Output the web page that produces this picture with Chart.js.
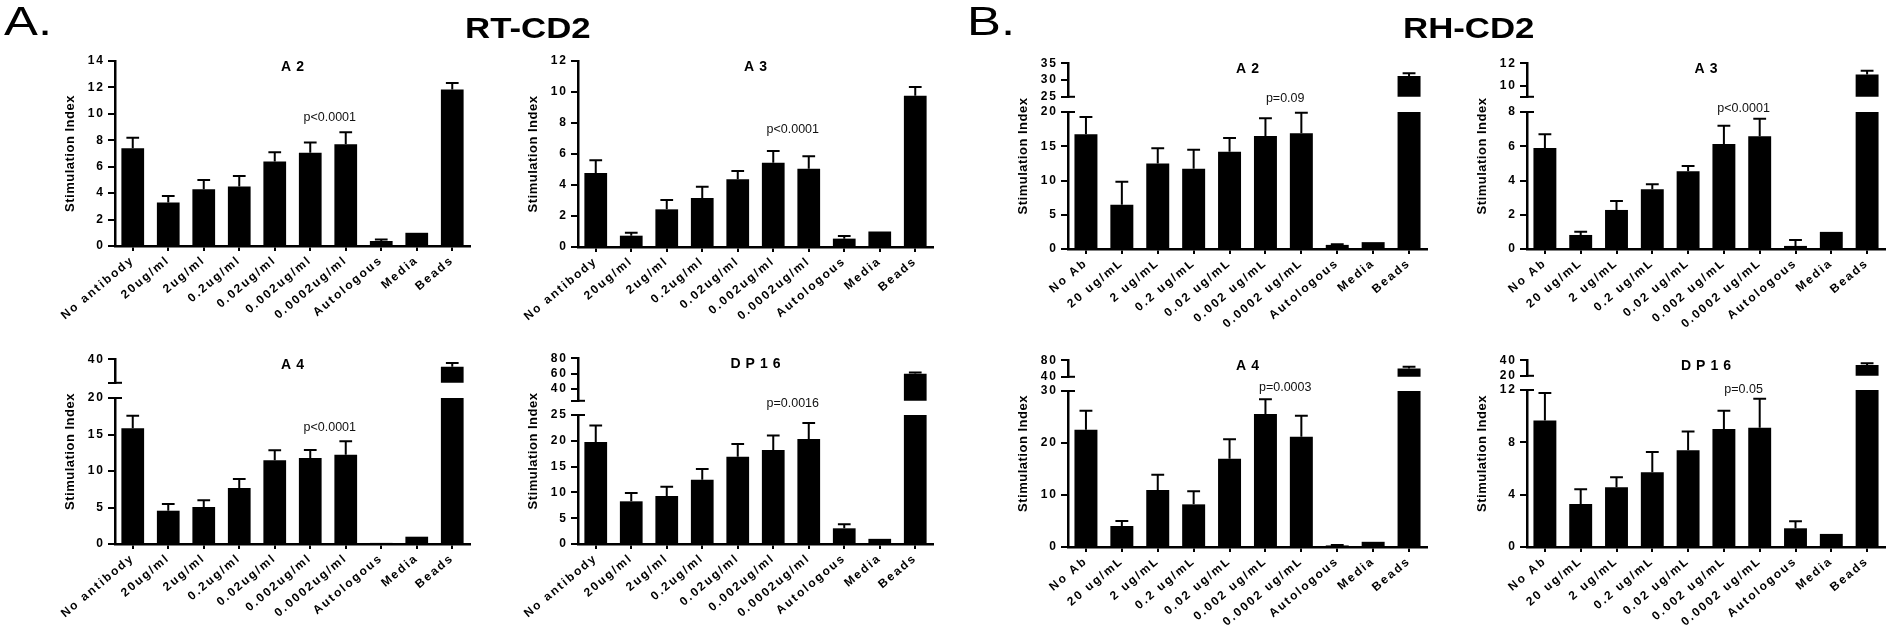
<!DOCTYPE html>
<html>
<head>
<meta charset="utf-8">
<script src="https://cdn.jsdelivr.net/npm/chart.js@4.4.1/dist/chart.umd.min.js"></script>
<style>
html, body { margin: 0; padding: 0; background: #fff; }
#page { position: relative; width: 1894px; height: 632px; overflow: hidden; background: #fff; }
canvas { position: absolute; }
</style>
</head>
<body>
<div id="page"><canvas id="bg" width="1894" height="632" style="left:0;top:0"></canvas></div>
<script>
// categories
var catsRT = ['No antibody', '20ug/ml', '2ug/ml', '0.2ug/ml', '0.02ug/ml', '0.002ug/ml', '0.0002ug/ml', 'Autologous', 'Media', 'Beads'];
var catsRH = ['No Ab', '20 ug/mL', '2 ug/mL', '0.2 ug/mL', '0.02 ug/mL', '0.002 ug/mL', '0.0002 ug/mL', 'Autologous', 'Media', 'Beads'];

// stimulation index (mean) and error (SEM)
var rtA2Mean = [7.4, 3.3, 4.3, 4.5, 6.4, 7.05, 7.7, 0.38, 1.0, 11.85];
var rtA2Err = [0.8, 0.48, 0.7, 0.8, 0.7, 0.78, 0.9, 0.12, 0, 0.48];
var rtA3Mean = [4.77, 0.73, 2.43, 3.16, 4.37, 5.44, 5.05, 0.54, 1.0, 9.76];
var rtA3Err = [0.82, 0.19, 0.6, 0.73, 0.53, 0.75, 0.8, 0.17, 0, 0.56];
var rtA4Mean = [15.85, 4.56, 5.07, 7.67, 11.46, 11.78, 12.24, 0.15, 1.0, 36.8];
var rtA4Err = [1.73, 0.92, 0.91, 1.23, 1.37, 1.1, 1.83, 0, 0, 1.6];
var rtDp16Mean = [19.77, 8.27, 9.3, 12.47, 16.93, 18.2, 20.35, 3.04, 1.0, 60];
var rtDp16Err = [3.2, 1.6, 1.8, 2.06, 2.45, 2.85, 3.1, 0.77, 0, 1.5];
var rhA2Mean = [16.74, 6.47, 12.5, 11.73, 14.2, 16.5, 16.89, 0.6, 1.0, 31.2];
var rhA2Err = [2.53, 3.36, 2.2, 2.77, 2.0, 2.58, 3.0, 0.1, 0, 0.8];
var rhA3Mean = [5.9, 0.82, 2.28, 3.49, 4.54, 6.13, 6.58, 0.18, 1.0, 11.0];
var rhA3Err = [0.8, 0.19, 0.52, 0.29, 0.31, 1.07, 1.03, 0.35, 0, 0.33];
var rhA4Mean = [22.56, 4.04, 10.96, 8.2, 16.98, 25.58, 21.2, 0.3, 1.0, 60];
var rhA4Err = [3.65, 0.96, 2.94, 2.5, 3.72, 2.82, 4.06, 0.1, 0, 4];
var rhDp16Mean = [9.66, 3.29, 4.56, 5.71, 7.39, 9.02, 9.12, 1.43, 1.0, 34];
var rhDp16Err = [2.11, 1.12, 0.77, 1.55, 1.43, 1.4, 2.22, 0.53, 0, 2];

// y ticks (lower segment / upper segment of broken axes)
var ticksRtA2 = [0, 2, 4, 6, 8, 10, 12, 14];
var ticksRtA3 = [0, 2, 4, 6, 8, 10, 12];
var ticksRtA4Low = [0, 5, 10, 15, 20];
var ticksRtA4Top = [30, 40];
var labelsRtA4Top = ['', '40'];
var ticksRtDp16Low = [0, 5, 10, 15, 20, 25];
var ticksRtDp16Top = [25, 40, 60, 80];
var labelsRtDp16Top = ['', '40', '60', '80'];
var ticksRhA2Low = [0, 5, 10, 15, 20];
var ticksRhA2Top = [25, 30, 35];
var ticksRhA3Low = [0, 2, 4, 6, 8];
var ticksRhA3Top = [9, 10, 12];
var labelsRhA3Top = ['', '10', '12'];
var ticksRhA4Low = [0, 10, 20, 30];
var ticksRhA4Top = [40, 80];
var ticksRhDp16Low = [0, 4, 8, 12];
var ticksRhDp16Top = [20, 40];

var panels = [
    {title: 'A2', cats: catsRT, mean: rtA2Mean, err: rtA2Err, p: 'p<0.0001', pY: 9.7,
     lowMax: 14, lowTicks: ticksRtA2,
     box: {x: 115, r: 470, top: 61, zero: 246, ctop: 40}},
    {title: 'A3', cats: catsRT, mean: rtA3Mean, err: rtA3Err, p: 'p<0.0001', pY: 7.55,
     lowMax: 12, lowTicks: ticksRtA3,
     box: {x: 578, r: 933, top: 61, zero: 247, ctop: 40}},
    {title: 'A2', cats: catsRH, mean: rhA2Mean, err: rhA2Err, p: 'p=0.09', pY: 21.9,
     lowMax: 20, lowTicks: ticksRhA2Low, topMin: 25, topMax: 35, topTicks: ticksRhA2Top,
     box: {x: 1068, r: 1427, segTop: 63, segBot: 97, top: 112, zero: 249, ctop: 40}},
    {title: 'A3', cats: catsRH, mean: rhA3Mean, err: rhA3Err, p: 'p<0.0001', pY: 8.23,
     lowMax: 8, lowTicks: ticksRhA3Low, topMin: 9, topMax: 12, topTicks: ticksRhA3Top, topLabels: labelsRhA3Top,
     box: {x: 1527, r: 1885, segTop: 63, segBot: 97, top: 112, zero: 249, ctop: 40}},
    {title: 'A4', cats: catsRT, mean: rtA4Mean, err: rtA4Err, p: 'p<0.0001', pY: 16.0,
     lowMax: 20, lowTicks: ticksRtA4Low, topMin: 30, topMax: 40, topTicks: ticksRtA4Top, topLabels: labelsRtA4Top,
     box: {x: 115, r: 470, segTop: 359, segBot: 383, top: 398, zero: 544, ctop: 335}},
    {title: 'DP16', cats: catsRT, mean: rtDp16Mean, err: rtDp16Err, p: 'p=0.0016', pY: 27.3,
     lowMax: 25, lowTicks: ticksRtDp16Low, topMin: 25, topMax: 80, topTicks: ticksRtDp16Top, topLabels: labelsRtDp16Top,
     box: {x: 578, r: 933, segTop: 358, segBot: 401, top: 415, zero: 544, ctop: 335}},
    {title: 'A4', cats: catsRH, mean: rhA4Mean, err: rhA4Err, p: 'p=0.0003', pY: 30.6,
     lowMax: 30, lowTicks: ticksRhA4Low, topMin: 40, topMax: 80, topTicks: ticksRhA4Top,
     box: {x: 1068, r: 1427, segTop: 360, segBot: 377, top: 391, zero: 547, ctop: 335}},
    {title: 'DP16', cats: catsRH, mean: rhDp16Mean, err: rhDp16Err, p: 'p=0.05', pY: 12.05,
     lowMax: 12, lowTicks: ticksRhDp16Low, topMin: 20, topMax: 40, topTicks: ticksRhDp16Top,
     box: {x: 1527, r: 1885, segTop: 360, segBot: 376, top: 390, zero: 547, ctop: 335}}
];

var FONT = '"Liberation Sans", Arial, sans-serif';
var YW = 80, XH = 88, PR = 4, P_AT = 5.55;
var page = document.getElementById('page');

// headers
var bg = document.getElementById('bg').getContext('2d');
bg.fillStyle = '#000';
function header(txt, x, y, font, sx) {
    bg.save();
    bg.translate(x, y);
    bg.scale(sx, 1);
    bg.font = font;
    bg.fillText(txt, 0, 0);
    bg.restore();
}
header('A.', 4, 35, '40px ' + FONT, 1.27);
header('B.', 967, 35, '40px ' + FONT, 1.27);
header('RT-CD2', 465, 38, 'bold 29px ' + FONT, 1.2);
header('RH-CD2', 1403, 38, 'bold 29px ' + FONT, 1.2);

function addCanvas(left, top, w, h) {
    var cv = document.createElement('canvas');
    cv.width = w; cv.height = h;
    cv.style.left = left + 'px'; cv.style.top = top + 'px';
    cv.style.width = w + 'px'; cv.style.height = h + 'px';
    page.appendChild(cv);
    return cv;
}

// error bars, break caps, panel title, p value, y title
function makeDeco(p, part) {
    return {
        id: 'deco',
        beforeLayout: function(c) { c.ctx.letterSpacing = '2px'; },
        beforeDraw: function(c) { c.ctx.letterSpacing = '2px'; },
        afterDatasetsDraw: function(c) {
            var ctx = c.ctx, a = c.chartArea, xs = c.scales.x, ys = c.scales.y;
            var bars = c.getDatasetMeta(0).data;
            ctx.save();
            ctx.beginPath();
            ctx.rect(a.left, a.top - 1, a.right - a.left, a.bottom - a.top + 1);
            ctx.clip();
            ctx.strokeStyle = '#000';
            ctx.lineWidth = 2;
            p.mean.forEach(function(m, i) {
                var e = p.err[i];
                if (!e) return;
                var cx = bars[i].x, hw = bars[i].width * 0.28;
                var y0 = ys.getPixelForValue(m), y1 = ys.getPixelForValue(m + e);
                ctx.beginPath();
                ctx.moveTo(cx, y0); ctx.lineTo(cx, y1);
                ctx.moveTo(cx - hw, y1); ctx.lineTo(cx + hw, y1);
                ctx.stroke();
            });
            ctx.restore();

            var broken = p.topMin != null;
            ctx.save();
            ctx.strokeStyle = '#000';
            ctx.lineWidth = 2;
            if (broken) {
                var yy = part == 'low' ? a.top : a.bottom;
                ctx.beginPath();
                ctx.moveTo(a.left, yy); ctx.lineTo(a.left + 7, yy);
                ctx.stroke();
            }
            ctx.restore();
            if (part != 'low') return;

            var top = broken ? p.box.segTop - p.box.ctop : a.top;
            ctx.save();
            ctx.fillStyle = '#000';
            ctx.textAlign = 'center';
            ctx.textBaseline = 'middle';
            ctx.font = 'bold 14px ' + FONT;
            ctx.letterSpacing = '5px';
            ctx.fillText(p.title, (a.left + a.right) / 2 + 2.5, top + 6);
            ctx.font = '12.5px ' + FONT;
            ctx.letterSpacing = '0px';
            ctx.fillStyle = '#111';
            ctx.fillText(p.p, xs.getPixelForValue(P_AT), ys.getPixelForValue(p.pY));
            ctx.translate(a.left - 45, (top + a.bottom) / 2);
            ctx.rotate(-Math.PI / 2);
            ctx.font = 'bold 13px ' + FONT;
            ctx.letterSpacing = '0.5px';
            ctx.fillStyle = '#000';
            ctx.fillText('Stimulation Index', 0, 0);
            ctx.restore();
        }
    };
}

function yScale(min, max, ticks, labels) {
    return {
        min: min, max: max,
        afterFit: function(s) { s.width = YW; },
        afterBuildTicks: function(s) { s.ticks = ticks.map(function(v) { return {value: v}; }); },
        ticks: {
            autoSkip: false, padding: 3, color: '#000',
            font: {family: FONT, size: 12, weight: 'bold'},
            callback: function(v, i) { return labels ? labels[i] : String(v); }
        },
        grid: {drawOnChartArea: false, color: '#000', lineWidth: 2, tickLength: 7},
        border: {color: '#000', width: 2.5}
    };
}

function xScale(show) {
    var s = {
        offset: true, display: show,
        ticks: {
            autoSkip: false, minRotation: 40, maxRotation: 40, padding: 2, color: '#000',
            font: {family: FONT, size: 12, weight: 'bold'}
        },
        grid: {offset: false, drawOnChartArea: false, color: '#000', lineWidth: 2, tickLength: 5},
        border: {color: '#000', width: 2.5}
    };
    if (show) s.afterFit = function(sc) { sc.height = XH; };
    return s;
}

function makeChart(cv, p, part, pad, ys) {
    return new Chart(cv, {
        type: 'bar',
        data: {
            labels: p.cats,
            datasets: [{
                data: p.mean,
                backgroundColor: '#000',
                borderWidth: 0,
                barPercentage: 0.64,
                categoryPercentage: 1,
                clip: 0
            }]
        },
        options: {
            responsive: false,
            animation: false,
            devicePixelRatio: 1,
            events: [],
            layout: {padding: pad},
            plugins: {legend: {display: false}, tooltip: {enabled: false}},
            scales: {x: xScale(part == 'low'), y: ys}
        },
        plugins: [makeDeco(p, part)]
    });
}

panels.forEach(function(p) {
    var b = p.box, cl = b.x - YW, cw = b.r - cl + PR;
    var cv = addCanvas(cl, b.ctop, cw, b.zero - b.ctop + XH);
    makeChart(cv, p, 'low', {top: b.top - b.ctop, right: PR, bottom: 0, left: 0},
        yScale(0, p.lowMax, p.lowTicks, null));
    if (p.topMin != null) {
        var cv2 = addCanvas(cl, b.segTop - 10, cw, b.segBot - b.segTop + 20);
        makeChart(cv2, p, 'top', {top: 10, right: PR, bottom: 10, left: 0},
            yScale(p.topMin, p.topMax, p.topTicks, p.topLabels || null));
    }
});
</script>
</body>
</html>
